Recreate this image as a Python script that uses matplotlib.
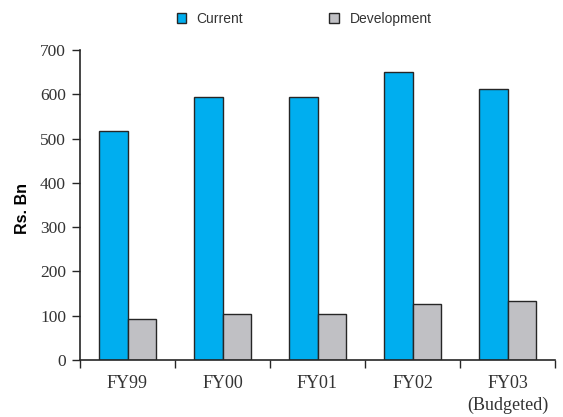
import matplotlib
matplotlib.use("Agg")
import matplotlib.pyplot as plt
import numpy as np
from matplotlib.patches import Patch

categories = ["FY99", "FY00", "FY01", "FY02", "FY03\n(Budgeted)"]
current = [517, 593, 593, 650, 611]
development = [92, 103, 103, 126, 133]
yticks = [0, 100, 200, 300, 400, 500, 600, 700]

blue = "#00AEEF"
grey = "#C0C0C4"
edge = "#262626"

plt.rcParams["font.family"] = ["Liberation Serif", "DejaVu Serif"]
plt.rcParams["text.color"] = "#333333"
plt.rcParams["xtick.color"] = edge
plt.rcParams["ytick.color"] = edge
plt.rcParams["xtick.labelcolor"] = "#333333"
plt.rcParams["ytick.labelcolor"] = "#333333"

fig = plt.figure(figsize=(5.63, 4.17), dpi=100)
ax = fig.add_axes([80 / 563, 1 - 360 / 417, 475 / 563, 310 / 417])

x = np.arange(len(categories))
w = 0.295
ax.bar(x - w / 2, current, width=w, color=blue, edgecolor=edge, linewidth=1.0)
ax.bar(x + w / 2, development, width=w, color=grey, edgecolor=edge, linewidth=1.0)

ax.set_xlim(-0.5, len(categories) - 0.5)
ax.set_ylim(0, 700)
ax.set_yticks(yticks)
ax.set_yticklabels([str(v) for v in yticks], fontsize=12.5)

ax.set_xticks(x)
ax.set_xticklabels(categories, fontsize=13, linespacing=1.35)
ax.tick_params(axis="x", which="major", length=0, pad=11)
ax.set_xticks(np.arange(len(categories) + 1) - 0.5, minor=True)
ax.tick_params(axis="x", which="minor", length=6, width=1, direction="out")
ax.tick_params(axis="y", length=6, width=1, direction="out", pad=4)

for s in ("top", "right"):
    ax.spines[s].set_visible(False)
for s in ("left", "bottom"):
    ax.spines[s].set_color(edge)
    ax.spines[s].set_linewidth(1.2)

ax.set_ylabel("Rs. Bn", family="Liberation Sans", fontweight="bold", fontsize=11.5)
ax.yaxis.set_label_coords(-0.105, 0.49)

handles = [Patch(facecolor=blue, edgecolor=edge, linewidth=1.0),
           Patch(facecolor=grey, edgecolor=edge, linewidth=1.0)]
fig.legend(handles, ["Current", "Development"], loc="center", ncol=2, frameon=False,
           bbox_to_anchor=(0.54, 1 - 19 / 417), handlelength=0.7, handleheight=0.7,
           handletextpad=0.75, columnspacing=6.2,
           prop={"family": "Liberation Sans", "size": 10})

fig.savefig("out.png", dpi=100)
